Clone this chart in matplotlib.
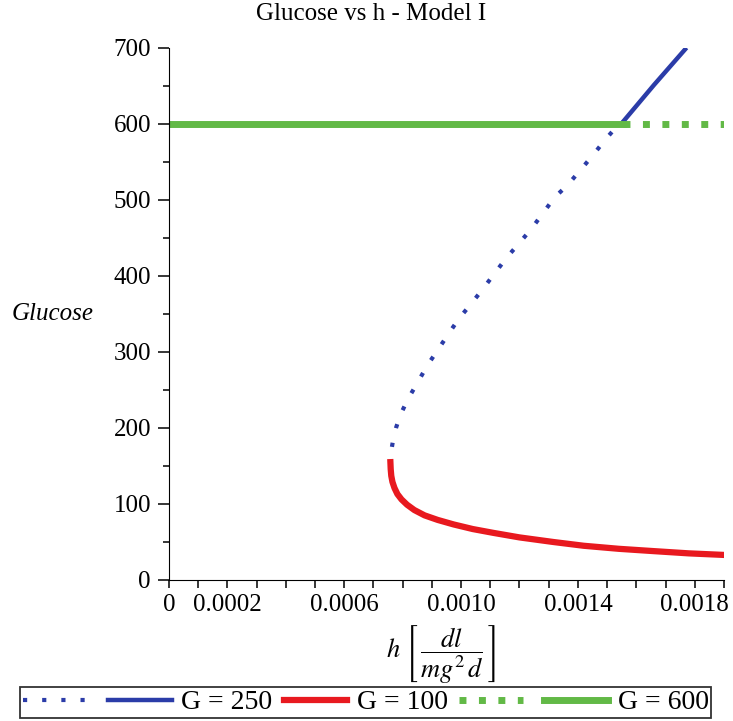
import numpy as np
import matplotlib.pyplot as plt
from matplotlib.ticker import FixedLocator, MultipleLocator

plt.rcParams['font.family'] = ['Liberation Serif', 'DejaVu Serif']
plt.rcParams['mathtext.fontset'] = 'stix'

# upper branch of G = 250 curve (unstable, dotted)
h_upper = [0.000758, 0.000759, 0.000762, 0.000768, 0.000778, 0.000792, 0.000818,
           0.000853, 0.000884, 0.000921, 0.000959, 0.000993, 0.001038, 0.001079,
           0.001116, 0.001158, 0.001199, 0.001243, 0.001281, 0.001322, 0.001366,
           0.001408, 0.001452, 0.001493, 0.001534, 0.001555]
g_upper = [150, 160, 172, 186, 201, 217, 238, 261, 282, 303, 325, 344, 365, 385,
           404, 425, 443, 463, 483, 504, 520, 539, 559, 579, 597, 603]

# G = 250 stable part above 600
h_top = [0.001555, 0.001660, 0.001767]
g_top = [603, 651, 698]

# G = 100 lower branch
h_lower = [0.000758, 0.000759, 0.000761, 0.000765, 0.000772, 0.000782, 0.000796,
           0.000815, 0.000840, 0.000875, 0.000920, 0.000975, 0.001040, 0.001110,
           0.001200, 0.001315, 0.001420, 0.001540, 0.001658, 0.001780, 0.001897]
g_lower = [155, 146, 137, 129, 121, 113, 106, 99, 92, 85, 79, 73, 67, 62, 56, 50,
           45, 41, 38, 35, 33]

# G = 600 line
h_green_solid = [0.0, 0.001555]
h_green_dot = [0.001555, 0.0019]
g_green = [600, 600]

x_ticks = np.arange(0, 20) * 1e-4
x_labels = {0: '0', 2: '0.0002', 6: '0.0006', 10: '0.0010', 14: '0.0014', 18: '0.0018'}

fig = plt.figure(figsize=(7.33, 7.21), dpi=100)
ax = fig.add_axes([0.2306, 0.1956, 0.757, 0.738])

blue = '#2b3ca8'
red = '#e8191f'
green = '#62b946'

l1, = ax.plot(h_upper, g_upper, color=blue, lw=3, linestyle=(0, (1, 3.6)))
l2, = ax.plot(h_top, g_top, color=blue, lw=3.2)
l3, = ax.plot(h_lower, g_lower, color=red, lw=4.5, solid_joinstyle='round')
l4, = ax.plot(h_green_dot, g_green, color=green, lw=5, linestyle=(0, (1, 1.8)))
l5, = ax.plot(h_green_solid, g_green, color=green, lw=5)

ax.set_xlim(0, 0.0019)
ax.set_ylim(0, 700)
ax.spines['top'].set_visible(False)
ax.spines['right'].set_visible(False)

ax.xaxis.set_major_locator(FixedLocator(x_ticks))
ax.set_xticklabels([x_labels.get(i, '') for i in range(len(x_ticks))])
ax.yaxis.set_major_locator(MultipleLocator(100))
ax.yaxis.set_minor_locator(MultipleLocator(50))
ax.tick_params(axis='both', labelsize=18, width=1.1)
ax.tick_params(axis='x', length=6, pad=4)
ax.tick_params(axis='y', which='major', length=8, pad=5)
ax.tick_params(axis='y', which='minor', length=4, width=1.1)

ax.set_ylabel('Glucose', fontsize=18, style='italic', rotation=0, ha='center', va='center')
ax.yaxis.set_label_coords(-0.21, 0.5)
ax.set_xlabel(r'$h\ \left[\,\dfrac{dl}{mg^2\,d}\,\right]$', fontsize=19)
ax.xaxis.set_label_coords(0.49, -0.08)
ax.xaxis.label.set_va('top')

fig.text(0.506, 0.98, 'Glucose vs h - Model I', ha='center', va='center', fontsize=18)

leg = fig.legend([l1, l2, l3, l4, l5], ['', 'G = 250', 'G = 100', '', 'G = 600'],
                 loc='lower center', bbox_to_anchor=(0.499, 0.0), ncol=5, fontsize=20,
                 frameon=True, fancybox=False, edgecolor='black', handlelength=2.3,
                 handletextpad=0.35, columnspacing=0.4, borderpad=0.1, borderaxespad=0.1)
leg.get_frame().set_linewidth(1.3)

fig.savefig('out.png', dpi=100)
